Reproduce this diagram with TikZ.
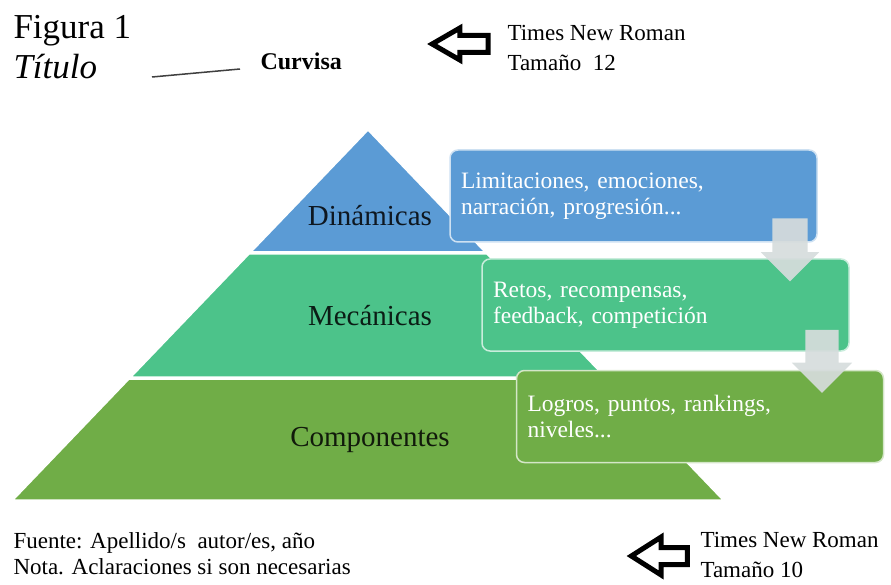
\documentclass[tikz,border=0pt]{standalone}
\usepackage{fontspec}
\setmainfont{Liberation Serif}
\usetikzlibrary{shapes.arrows}

\definecolor{dinazul}{HTML}{5B9BD5}
\definecolor{mecverde}{HTML}{4CC38A}
\definecolor{compverde}{HTML}{70AD47}
\definecolor{flechagris}{HTML}{D6DCDC}

\tikzset{
  capa/.style={draw=white, line width=1.5pt},
  etiqueta/.style={font=\fontsize{29}{34}\selectfont},
  caja/.style={rectangle, rounded corners=8pt, fill=#1, draw=#1!30!white,
    line width=1.5pt, minimum width=367pt, minimum height=92pt,
    text width=345pt, align=left, text=white, inner sep=0pt,
    font=\fontsize{23.5}{26}\selectfont},
  bajada/.style={single arrow, fill=flechagris, fill opacity=0.92, rotate=-90,
    inner xsep=0pt, inner ysep=#1, minimum height=63pt},
  aviso/.style={single arrow, draw=black, fill=white, line width=5pt,
    rotate=180, inner xsep=0pt, inner ysep=6pt},
  texto/.style={font=\fontsize{23}{30}\selectfont, align=left}
}

\begin{document}
\begin{tikzpicture}[x=1pt, y=-1pt]
  \useasboundingbox (0,0) rectangle (891,585);

  % piramide
  \draw[capa, fill=compverde] (129,379) -- (607,379) -- (723,500) -- (13,500) -- cycle;
  \draw[capa, fill=mecverde] (249,254) -- (487,254) -- (605,377) -- (131,377) -- cycle;
  \draw[capa, fill=dinazul] (368,130) -- (485,252) -- (251,252) -- cycle;

  \node[etiqueta, text=black!85!dinazul] (din) at (370,216) {Dinámicas};
  \node[etiqueta, text=black!85!mecverde] (mec) at (370,316) {Mecánicas};
  \node[etiqueta, text=black!85!compverde] (comp) at (370,440) {Componentes};

  % cajas
  \node[caja=dinazul] (limit) at (633.5,196) {Limitaciones, emociones,\\narración, progresión...};
  \node[caja=mecverde] (retos) at (665.5,305) {Retos, recompensas,\\feedback, competición};
  \node[caja=compverde] (logros) at (700,416.5) {Logros, puntos, rankings,\\niveles...};

  \node[bajada=17.5pt, single arrow head extend=11.5pt] (flA) at (790,241) {};
  \node[bajada=16.5pt, single arrow head extend=13.5pt] (flB) at (822,353) {};

  % titulo
  \node[anchor=base west, font=\fontsize{35}{40}\selectfont] (fig) at (10,39) {Figura 1};
  \node[anchor=base west, font=\fontsize{35}{40}\itshape] (tit) at (10,79) {Título};
  \node[anchor=base west, font=\fontsize{24}{28}\bfseries] (curv) at (257,70) {Curvisa};
  \coordinate (rayaA) at (152,77);
  \coordinate (rayaB) at (240,69);
  \draw[black!75, line width=1.5pt] (rayaA) -- (rayaB);

  \node[aviso, minimum height=56pt, single arrow head extend=7.5pt,
    single arrow tip angle=60] (av12) at (467.5,44) {};
  \node[texto, anchor=west] (tnr12) at (504,48) {Times New Roman\\Tamaño\enspace 12};

  % pie
  \node[texto, anchor=north west, font=\fontsize{23}{26}\selectfont] (fuente) at (10,529)
    {Fuente: Apellido/s\enspace autor/es, año\\Nota. Aclaraciones si son necesarias};
  \node[aviso, minimum height=56pt, single arrow head extend=10.5pt,
    single arrow tip angle=65] (av10) at (666,556) {};
  \node[texto, anchor=west] (tnr10) at (697,555) {Times New Roman\\Tamaño 10};
\end{tikzpicture}
\end{document}
